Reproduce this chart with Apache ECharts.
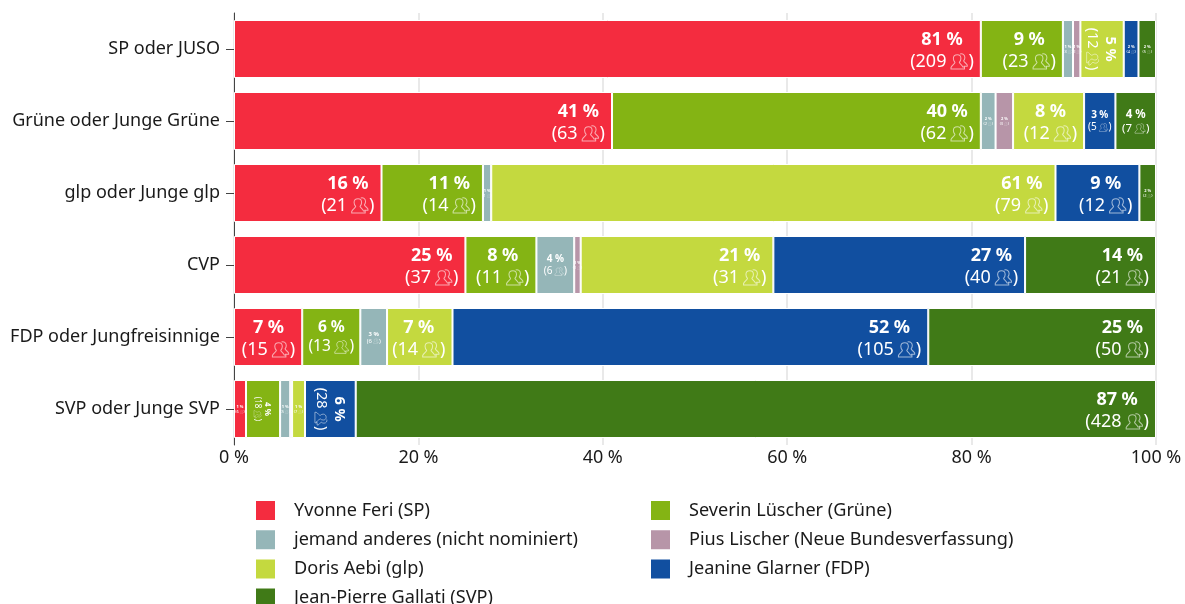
<!DOCTYPE html>
<html><head><meta charset="utf-8">
<style>html,body{margin:0;padding:0;background:#fff}#c{width:1185px;height:604px}</style>
<script src="https://cdn.jsdelivr.net/npm/echarts@6/dist/echarts.min.js"></script>
</head><body><div id="c"></div>
<script>
const categories = ['SP oder JUSO','Grüne oder Junge Grüne','glp oder Junge glp','CVP','FDP oder Jungfreisinnige','SVP oder Junge SVP'];
const names = ['Yvonne Feri (SP)','Severin Lüscher (Grüne)','jemand anderes (nicht nominiert)','Pius Lischer (Neue Bundesverfassung)','Doris Aebi (glp)','Jeanine Glarner (FDP)','Jean-Pierre Gallati (SVP)'];
const colors = ['#f42c3f','#84b414','#95b6b8','#b795a8','#c4d93f','#114fa0','#407a17'];
// share of votes in percent, one list per candidate
const feriShare = [81.0,41.0,16.0,25.1,7.4,1.3];
const luescherShare = [8.9,40.0,11.0,7.7,6.3,3.7];
const anderesShare = [1.1,1.6,0.9,4.1,2.9,1.1];
const lischerShare = [0.8,1.9,0,0.7,0,0.2];
const aebiShare = [4.7,7.7,61.2,20.9,7.1,1.4];
const glarnerShare = [1.6,3.4,9.1,27.3,51.6,5.5];
const gallatiShare = [1.9,4.4,1.8,14.2,24.7,86.8];
// respondents, one list per candidate
const feriCount = [209,63,21,37,15,6];
const luescherCount = [23,62,14,11,13,18];
const anderesCount = [3,2,1,6,6,5];
const lischerCount = [2,3,0,1,0,1];
const aebiCount = [12,12,79,31,14,7];
const glarnerCount = [4,5,12,40,105,28];
const gallatiCount = [5,7,2,21,50,428];
const shares = [feriShare,luescherShare,anderesShare,lischerShare,aebiShare,glarnerShare,gallatiShare];
const counts = [feriCount,luescherCount,anderesCount,lischerCount,aebiCount,glarnerCount,gallatiCount];

const iconSvg = "<svg xmlns='http://www.w3.org/2000/svg' viewBox='0 0 24 24' fill='none' stroke='white' stroke-opacity='.6' stroke-width='1.3'>"
 + "<path d='M10 3.500c2.800 0 4.500 2 4.500 4.800 0 2-1 3.700-2 4.700 0 1.500 3.500 3 4.500 6H19v2.500H2V19.500c1.500-3 5-4.500 5-6.500-1-1-2-2.700-2-4.700 0-2.800 2-4.800 5-4.800z'/>"
 + "<path d='M13.500 2.500c3-1 6 1 6 4.500 0 1.800-.8 3.300-1.500 4.200 0 1.600 3 2.300 4.500 5.300v1.500H18'/></svg>";
const iconUri = 'data:image/svg+xml;charset=utf-8,' + encodeURIComponent(iconSvg);

const PCT = '\u2005%';
// narrow segments where the label is turned: [row, series]
const turned = ['0:4','5:1','5:5'];
function tierOf(r,s,v){
  if (turned.includes(r+':'+s)) return v<4 ? {b:8,n:8,ic:9,rot:true} : {b:14.5,n:14.5,ic:15,rot:true};
  if (v>=6.8) return {b:18,n:18,ic:19,end:true};
  if (v>=6) return {b:15.5,n:15.5,ic:16};
  if (v>=4.3) return {b:11.5,n:11.5,ic:12};
  if (v>=3.1) return {b:10,n:10,ic:10};
  if (v>=2.5) return {b:6,n:6,ic:6};
  return {b:4,n:4,ic:4};
}
function cell(r,s){
  const v = shares[s][r], n = counts[s][r], t = tierOf(r,s,v);
  const label = {
    show: n>0 && v>=0.5,
    position: t.end ? 'insideRight' : 'inside',
    distance: 7,
    offset: t.end ? [0,1.5] : [0,0.5],
    rotate: t.rot ? -90 : 0,
    color:'#fff',
    fontFamily:'"Noto Sans"',
    formatter: '{b|'+Math.round(v)+PCT+'}\n{n|('+n+'\u2009}{i|}{n|)}',
    rich:{
      b:{fontSize:t.b,fontWeight:700,color:'#fff',align:'center',lineHeight:Math.round(t.b*1.22),fontFamily:'"Noto Sans"'},
      n:{fontSize:t.n,color:'#fff',align:'center',lineHeight:Math.round(t.n*1.22),fontFamily:'"Noto Sans"'},
      i:{width:t.ic,height:t.ic,align:'center',backgroundColor:{image:iconUri}}
    }
  };
  return {value:v,label};
}
const series = names.map((name,s)=>({
  name,type:'bar',stack:'all',barWidth:58,
  itemStyle:{color:colors[s],borderColor:'#fff',borderWidth:1},
  data:categories.map((_,r)=>cell(r,s))
}));
const legendBase = {
  orient:'vertical',itemWidth:21,itemHeight:21,itemGap:6.2,top:499,height:300,padding:0,
  icon:'rect',selectedMode:false,
  textStyle:{fontSize:18.1,fontFamily:'"Noto Sans"',color:'#1a1a1a',padding:[0,0,0,13]}
};
const chart = echarts.init(document.getElementById('c'),null,{renderer:'canvas'});
chart.setOption({
  animation:false,
  backgroundColor:'#fff',
  color:colors,
  grid:{left:234,right:29,top:13,height:432,containLabel:false},
  legend:[
    Object.assign({},legendBase,{left:254,data:[names[0],names[2],names[4],names[6]]}),
    Object.assign({},legendBase,{left:649,data:[names[1],names[3],names[5]]})
  ],
  xAxis:{type:'value',min:0,max:100,interval:20,
    axisLine:{show:false},axisTick:{show:false},
    splitLine:{show:true,lineStyle:{color:'#e9e9e9',width:2}},
    axisLabel:{margin:4,fontSize:18,color:'#1a1a1a',fontFamily:'"Noto Sans"',hideOverlap:false,formatter:v=>v+PCT}},
  yAxis:{type:'category',inverse:true,data:categories,
    axisLine:{show:true,lineStyle:{color:'#444',width:1}},
    axisTick:{show:true,length:8,alignWithLabel:true,lineStyle:{color:'#444'}},
    axisLabel:{margin:14,fontSize:18,color:'#1a1a1a',fontFamily:'"Noto Sans"',padding:[4,0,0,0]}},
  series
});
</script></body></html>
